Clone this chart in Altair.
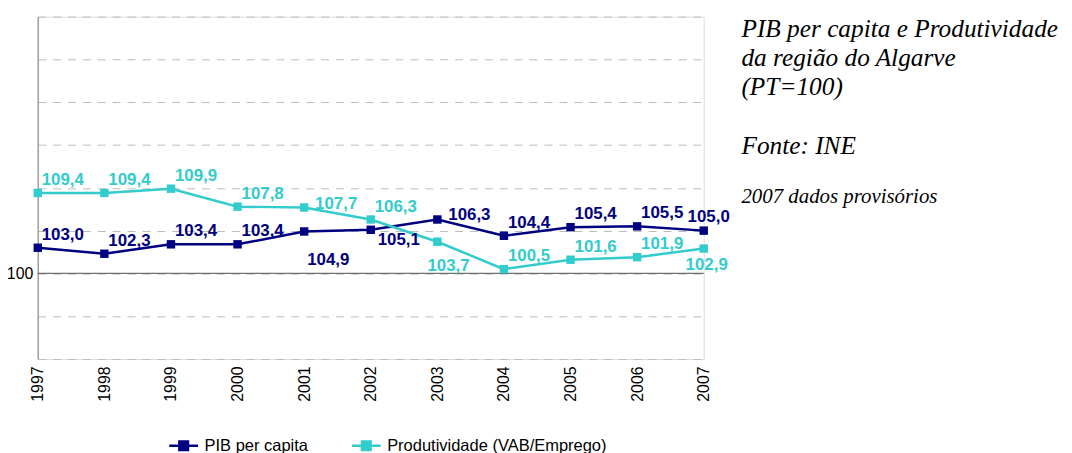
import altair as alt
import pandas as pd

years = [1997, 1998, 1999, 2000, 2001, 2002, 2003, 2004, 2005, 2006, 2007]
pib_per_capita = [103.0, 102.3, 103.4, 103.4, 104.9, 105.1, 106.3, 104.4, 105.4, 105.5, 105.0]
produtividade = [109.4, 109.4, 109.9, 107.8, 107.7, 106.3, 103.7, 100.5, 101.6, 101.9, 102.9]
series_names = ["PIB per capita", "Produtividade (VAB/Emprego)"]
series_colors = ["#000080", "#33CCCC"]
y_ticks = [90, 95, 100, 105, 110, 115, 120, 125, 130]
# label placement codes per point
pib_label_pos = ["ar", "ar", "ar", "ar", "b2", "br", "r", "ar", "ar", "ar", "ea"]
prod_label_pos = ["ar", "ar", "ar", "ar", "r", "ar", "b", "ar", "ar", "ar", "eb"]
title_lines = ["PIB per capita e Produtividade", "da região do Algarve", "(PT=100)"]
source_text = "Fonte: INE"
note_text = "2007 dados provisórios"

PLACE = {
    "ar": dict(align="left", dx=4, dy=-13),
    "r": dict(align="left", dx=11, dy=-4),
    "b2": dict(align="left", dx=3, dy=29),
    "br": dict(align="left", dx=7, dy=10),
    "b": dict(align="left", dx=-10, dy=24),
    "ea": dict(align="center", dx=5, dy=-14),
    "eb": dict(align="center", dx=3, dy=17),
}

rows = []
for name, vals, poss in [(series_names[0], pib_per_capita, pib_label_pos),
                         (series_names[1], produtividade, prod_label_pos)]:
    for yr, v, p in zip(years, vals, poss):
        rows.append({"year": yr, "series": name, "value": v, "pos": p,
                     "label": f"{v:.1f}".replace(".", ",")})
df = pd.DataFrame(rows)

FONT = "Liberation Sans"
color_scale = alt.Scale(domain=series_names, range=series_colors)

x_enc = alt.X("year:O", scale=alt.Scale(type="point", padding=0),
              axis=alt.Axis(title=None, labelAngle=-90, labelFontSize=16, labelFont=FONT,
                            labelPadding=7, ticks=False, domain=False, grid=False,
                            labelColor="black"))
y_enc = alt.Y("value:Q", scale=alt.Scale(domain=[90, 130], nice=False, zero=False),
              axis=alt.Axis(title=None, values=y_ticks,
                            labelExpr="datum.value == 100 ? '100' : ''",
                            grid=True, gridDash=[8, 7], gridColor="#bcbcbc", gridWidth=1,
                            ticks=False, domainColor="#a0a0a0", domainWidth=1.5,
                            labelFontSize=16, labelFont=FONT, labelPadding=5,
                            labelColor="black"))

legend_symbol = "M-1,0H1M-0.3,-0.3H0.3V0.3H-0.3ZM-0.15,-0.15H0.15V0.15H-0.15Z"

base = alt.Chart(df)

rule100 = alt.Chart(pd.DataFrame({"value": [100]})).mark_rule(
    color="#707070", strokeWidth=1.2).encode(y=y_enc)

lines = base.mark_line(strokeWidth=2.5).encode(
    x=x_enc, y=y_enc,
    color=alt.Color("series:N", scale=color_scale,
                    legend=alt.Legend(orient="none", legendX=131, legendY=416,
                                      direction="horizontal", title=None,
                                      symbolType=legend_symbol, symbolSize=841,
                                      symbolStrokeWidth=2.5, labelFontSize=16.6,
                                      labelFont=FONT, labelOffset=5, columnPadding=38,
                                      padding=0, labelColor="black", labelLimit=0)),
    detail="series:N")

points = base.mark_point(shape="square", filled=True, size=72, opacity=1).encode(
    x=x_enc, y=y_enc,
    color=alt.Color("series:N", scale=color_scale, legend=None))

label_layers = []
for code, st in PLACE.items():
    label_layers.append(
        base.transform_filter(alt.datum.pos == code).mark_text(
            font=FONT, fontSize=17, fontWeight="bold", baseline="middle", **st
        ).encode(x=x_enc, y=y_enc, text="label:N",
                 color=alt.Color("series:N", scale=color_scale, legend=None))
    )

SERIF = "Liberation Serif"
def side_text(txt, px, py, size):
    return alt.Chart(pd.DataFrame({"t": [txt]})).mark_text(
        font=SERIF, fontStyle="italic", fontSize=size, align="left",
        baseline="middle", color="black"
    ).encode(x=alt.value(px), y=alt.value(py), text="t:N")

TX = 709
titles = [
    side_text(title_lines[0], TX, 13, 25.5),
    side_text(title_lines[1], TX, 42, 25.5),
    side_text(title_lines[2], TX, 71, 25.5),
    side_text(source_text, TX, 130, 25.5),
    side_text(note_text, TX, 182, 21),
]

chart = alt.layer(rule100, lines, points, *label_layers, *titles).properties(
    width=671, height=345,
    autosize=alt.AutoSizeParams(type="none"),
    padding={"left": 30, "top": 7, "right": 363, "bottom": 93},
).configure_view(stroke=None).configure(font=FONT)

chart.save("out.html", embed_options={"renderer": "svg", "actions": False})
